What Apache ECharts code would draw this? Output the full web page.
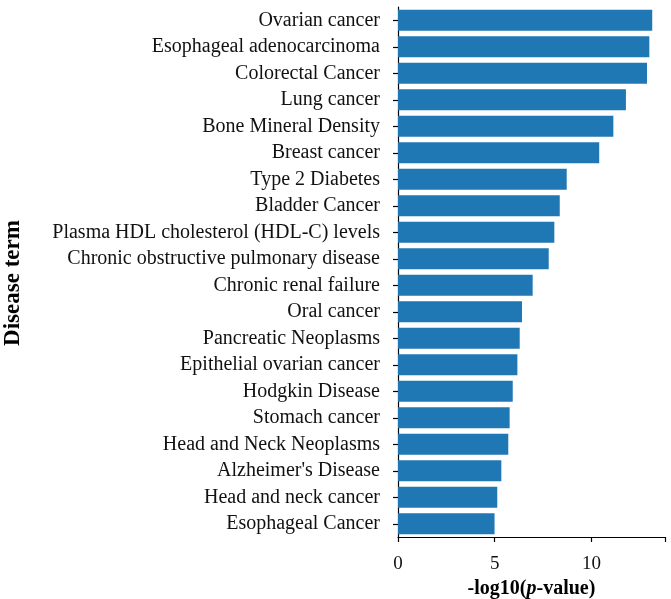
<!DOCTYPE html>
<html>
<head>
<meta charset="utf-8">
<script src="https://cdn.jsdelivr.net/npm/echarts@6/dist/echarts.min.js"></script>
<style>
  html, body { margin: 0; padding: 0; background: #fff; }
  #chart { width: 671px; height: 599px; }
</style>
</head>
<body>
<div id="chart"></div>
<script>
// disease terms, top to bottom
const terms = [
  'Ovarian cancer',
  'Esophageal adenocarcinoma',
  'Colorectal Cancer',
  'Lung cancer',
  'Bone Mineral Density',
  'Breast cancer',
  'Type 2 Diabetes',
  'Bladder Cancer',
  'Plasma HDL cholesterol (HDL-C) levels',
  'Chronic obstructive pulmonary disease',
  'Chronic renal failure',
  'Oral cancer',
  'Pancreatic Neoplasms',
  'Epithelial ovarian cancer',
  'Hodgkin Disease',
  'Stomach cancer',
  'Head and Neck Neoplasms',
  "Alzheimer's Disease",
  'Head and neck cancer',
  'Esophageal Cancer'
];

// -log10(p-value)
const logP = [13.14, 12.99, 12.87, 11.78, 11.13, 10.40, 8.72, 8.36, 8.08, 7.79,
              6.96, 6.41, 6.29, 6.17, 5.93, 5.77, 5.70, 5.34, 5.13, 4.99];

const xTicks = [0, 5, 10];

const serif = '"Liberation Serif", "Times New Roman", serif';
const chart = echarts.init(document.getElementById('chart'));

chart.setOption({
  animation: false,
  grid: { left: 398, right: 6, top: 7, bottom: 62, outerBoundsMode: 'none' },
  xAxis: {
    type: 'value',
    min: 0,
    max: 13.8,
    interval: 5,
    name: '{b|-log10(}{i|p}{b|-value)}',
    nameLocation: 'middle',
    nameGap: 42,
    nameTextStyle: {
      rich: {
        b: { fontFamily: serif, fontSize: 20, fontWeight: 'bold', color: '#000' },
        i: { fontFamily: serif, fontSize: 20, fontWeight: 'bold', fontStyle: 'italic', color: '#000' }
      }
    },
    axisLine: { show: true, lineStyle: { color: '#000', width: 1.2 } },
    axisTick: { show: true, length: 5, lineStyle: { color: '#000', width: 1.2 } },
    axisLabel: {
      fontFamily: serif, fontSize: 19, color: '#111', margin: 18,
      formatter: v => xTicks.includes(v) ? String(v) : ''
    },
    splitLine: { show: false }
  },
  yAxis: {
    type: 'category',
    data: terms,
    inverse: true,
    name: 'Disease term',
    nameLocation: 'middle',
    nameGap: 373,
    nameTextStyle: {
      fontFamily: serif, fontSize: 23, fontWeight: 'bold', color: '#000',
      padding: [0, 22, 0, 0]
    },
    axisLine: { show: true, lineStyle: { color: '#000', width: 1.2 } },
    axisTick: { show: true, alignWithLabel: true, length: 5, lineStyle: { color: '#000', width: 1.2 } },
    axisLabel: { fontFamily: serif, fontSize: 20, color: '#111', margin: 18 }
  },
  series: [{
    type: 'bar',
    data: logP,
    barWidth: 21,
    itemStyle: { color: '#1f77b4' }
  }]
});
</script>
</body>
</html>
